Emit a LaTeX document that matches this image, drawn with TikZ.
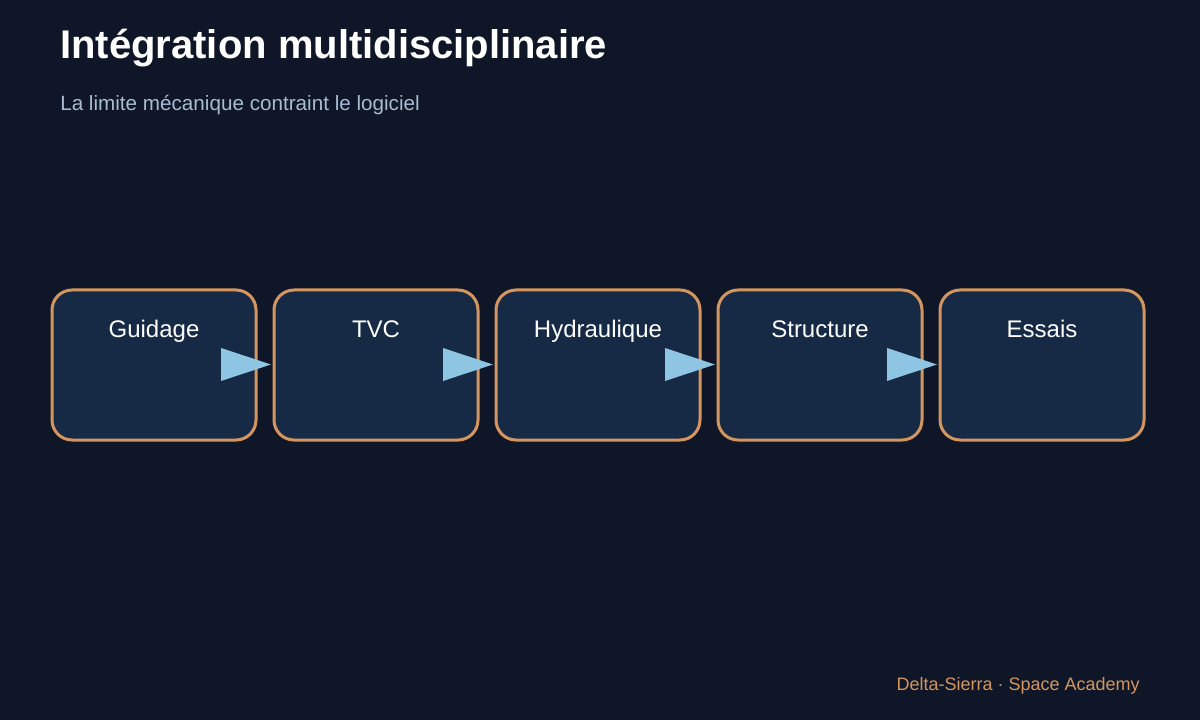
\documentclass[tikz,border=0pt]{standalone}
\usepackage{fontspec}
\setmainfont{Liberation Sans}
\definecolor{bg}{HTML}{0E1627}
\definecolor{boxfill}{HTML}{172A45}
\definecolor{boxline}{HTML}{D4965E}
\definecolor{arr}{HTML}{8EC5E2}
\definecolor{sub}{HTML}{A9BCD0}
\begin{document}
\begin{tikzpicture}[x=0.75pt,y=-0.75pt,
  box/.style={draw=boxline,line width=2.25pt,fill=boxfill,rounded corners=15pt,minimum width=153pt,minimum height=112.5pt,inner sep=0pt},
  lbl/.style={text=white,font=\fontsize{18pt}{20pt}\selectfont,anchor=base},
  tri/.style={fill=arr,draw=none}]
\fill[bg] (0,0) rectangle (1200,720);
\useasboundingbox (0,0) rectangle (1200,720);
\node[anchor=base west,text=white,font=\bfseries\fontsize{30pt}{34pt}\selectfont,inner sep=0pt] (title) at (60,59) {Intégration multidisciplinaire};
\node[anchor=base west,text=sub,font=\fontsize{15.5pt}{18pt}\selectfont,inner sep=0pt] (subtitle) at (60,111) {La limite mécanique contraint le logiciel};
\foreach \i/\t in {0/Guidage,1/TVC,2/Hydraulique,3/Structure,4/Essais}{
  \node[box] (b\i) at (154+222*\i,365) {};
  \node[lbl] (l\i) at (154+222*\i,338) {\t};
}
\foreach \i in {0,1,2,3}{
  \coordinate (t\i) at (221+222*\i,348);
  \fill[tri] (t\i) -- ++(50,16.5) -- ++(-50,16.5) -- cycle;
}
\node[anchor=base east,text=boxline,font=\fontsize{13.5pt}{16pt}\selectfont,inner sep=0pt] (foot) at (1140,690) {Delta-Sierra · Space Academy};
\end{tikzpicture}
\end{document}
